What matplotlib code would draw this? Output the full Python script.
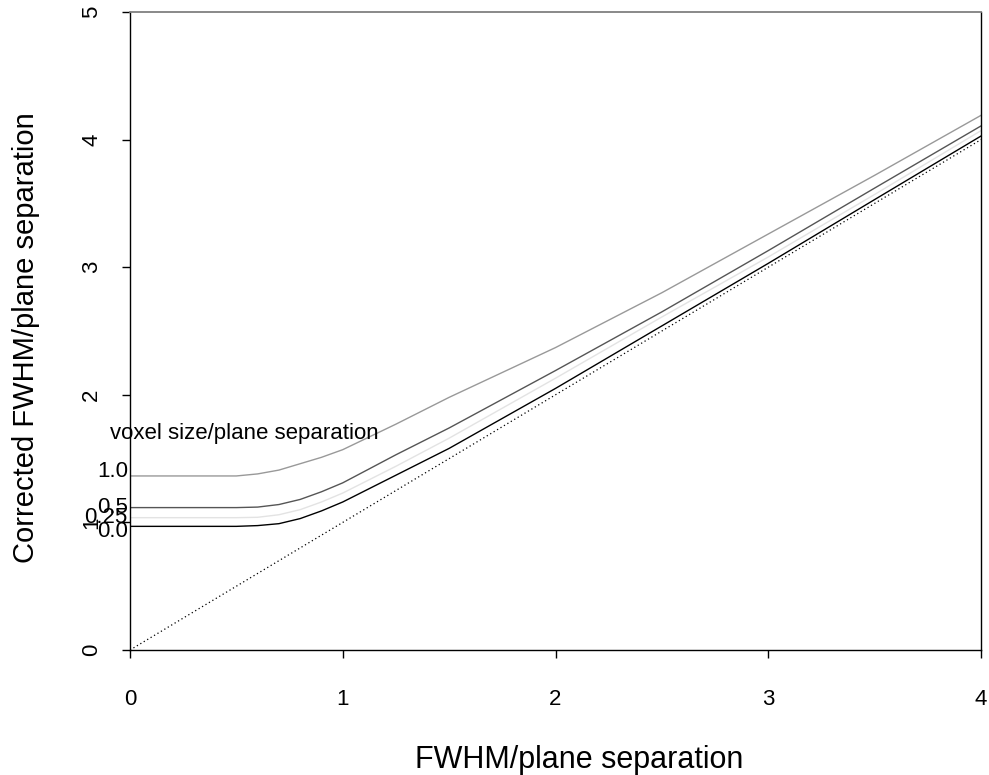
import matplotlib.pyplot as plt

plt.rcParams['font.family'] = ['Liberation Sans', 'DejaVu Sans']

# FWHM/plane separation (x) and corrected FWHM for each voxel size ratio
fwhm = [0.0, 0.5, 0.6, 0.7, 0.8, 0.9, 1.0, 1.25, 1.5, 2.0, 2.5, 3.0, 3.5, 4.0]
corr_10 = [1.364, 1.364, 1.38, 1.41, 1.46, 1.51, 1.57, 1.77, 1.98, 2.37, 2.80, 3.26, 3.72, 4.19]
corr_05 = [1.116, 1.116, 1.12, 1.14, 1.18, 1.24, 1.31, 1.53, 1.74, 2.19, 2.65, 3.13, 3.62, 4.107]
corr_025 = [1.037, 1.037, 1.04, 1.06, 1.10, 1.16, 1.23, 1.44, 1.66, 2.13, 2.61, 3.08, 3.57, 4.07]
corr_00 = [0.969, 0.969, 0.975, 0.99, 1.03, 1.09, 1.16, 1.37, 1.58, 2.05, 2.54, 3.03, 3.53, 4.028]

series = [
    (corr_10, '#999999', '1.0', 1.395),
    (corr_05, '#555555', '0.5', 1.12),
    (corr_025, '#e3e3e3', '0.25', 1.035),
    (corr_00, '#000000', '0.0', 0.925),
]

fig = plt.figure(figsize=(9.89, 7.75), dpi=100)
ax = fig.add_axes([130 / 989, 125 / 775, 851 / 989, 638 / 775])

# identity line
ax.plot([0, 4], [0, 4], color='black', lw=0.9, linestyle=(0, (1, 2.2)))

for vals, col, lab, ty in series:
    ax.plot(fwhm, vals, color=col, lw=1.0)
    ax.text(-0.01, ty, lab, ha='right', va='center', fontsize=16, clip_on=False)

ax.text(-0.094, 1.70, 'voxel size/plane separation', ha='left', va='center',
        fontsize=16, clip_on=False)

ax.set_xlim(0, 4)
ax.set_ylim(0, 5)
ax.set_xticks([0, 1, 2, 3, 4])
ax.set_yticks([0, 1, 2, 3, 4, 5])
ax.tick_params(axis='both', direction='out', length=6, width=1, labelsize=16)
ax.tick_params(axis='x', pad=22)
ax.tick_params(axis='y', pad=14, labelrotation=90)
for t in ax.get_yticklabels():
    t.set_va('center')

ax.spines['top'].set_color('#808080')
ax.spines['top'].set_linewidth(1.3)
for s in ['left', 'bottom', 'right']:
    ax.spines[s].set_linewidth(1.0)
ax.yaxis.get_major_ticks()[-1].tick1line.set_color('#808080')

ax.set_xlabel('FWHM/plane separation', fontsize=22, labelpad=25)
ax.set_ylabel('Corrected FWHM/plane separation', fontsize=21, labelpad=30)
ax.xaxis.label.set_x(0.528)
ax.yaxis.label.set_y(0.489)

fig.savefig('out.png', dpi=100)
